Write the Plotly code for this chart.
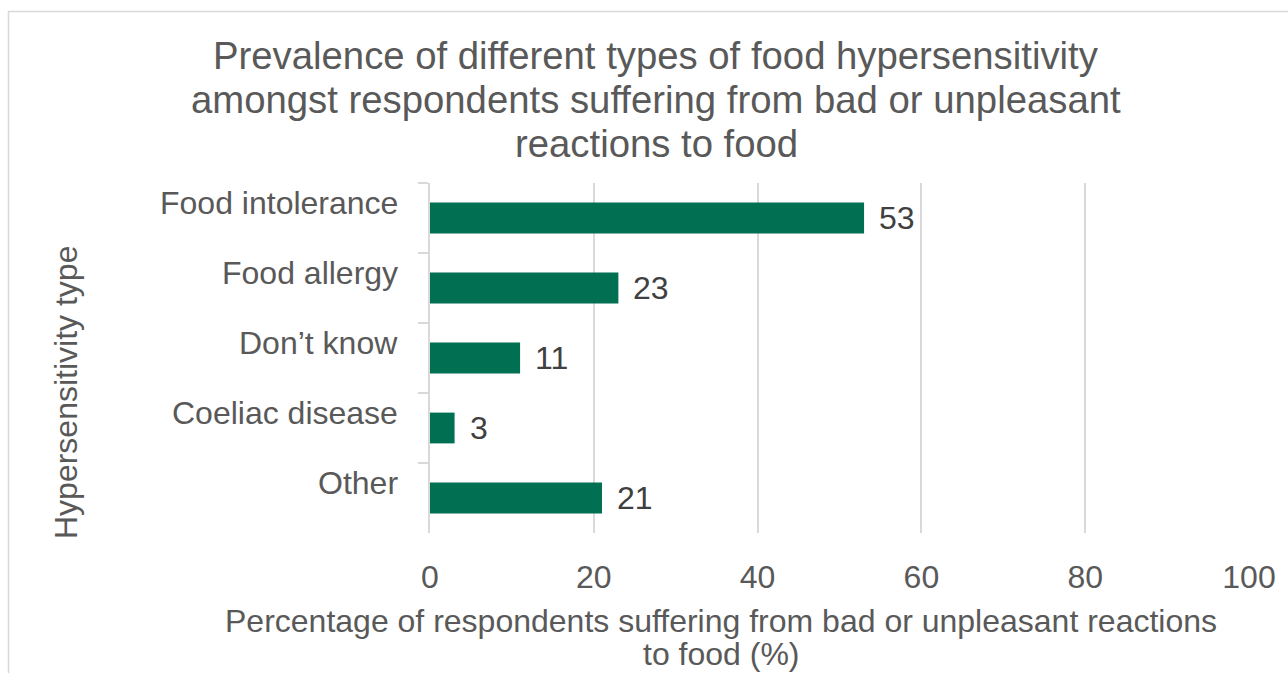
import plotly.graph_objects as go

# Hypersensitivity types, listed top to bottom
categories = ["Food intolerance", "Food allergy", "Don\u2019t know", "Coeliac disease", "Other"]
percentages = [53, 23, 11, 3, 21]
x_ticks = [0, 20, 40, 60, 80, 100]

title_lines = [
    "Prevalence of different types of food hypersensitivity",
    "amongst respondents suffering from bad or unpleasant",
    "reactions to food",
]
x_title_lines = [
    "Percentage of respondents suffering from bad or unpleasant reactions",
    "to food (%)",
]
y_title = "Hypersensitivity type"

FONT = "Liberation Sans, Arial, sans-serif"
TEXT_GREY = "#595959"
LABEL_GREY = "#404040"
LINE_GREY = "#d9d9d9"
BAR_GREEN = "#006F52"

W, H = 1288, 673
ML, MR, MT, MB = 430, 39, 183, 140
PW, PH = W - ML - MR, H - MT - MB


def px_to_paper_x(px):
    return (px - ML) / PW


def px_to_paper_y(py):
    return (H - MB - py) / PH


fig = go.Figure(
    go.Bar(
        x=percentages,
        y=categories,
        orientation="h",
        width=0.44,
        marker=dict(color=BAR_GREEN, line=dict(width=0)),
        hoverinfo="x+y",
    )
)

annotations = []

# category labels, sitting slightly above each bar
for cat in categories:
    annotations.append(dict(
        x=0, y=cat, xref="x", yref="y",
        text=cat, showarrow=False,
        xanchor="right", yanchor="middle",
        xshift=-30, yshift=15,
        font=dict(family=FONT, size=32, color=TEXT_GREY),
    ))

# value labels to the right of each bar
for cat, val in zip(categories, percentages):
    annotations.append(dict(
        x=val, y=cat, xref="x", yref="y",
        text=str(val), showarrow=False,
        xanchor="left", yanchor="middle",
        xshift=13, yshift=0,
        font=dict(family=FONT, size=32, color=LABEL_GREY),
    ))

# chart title, one line per annotation for tight line spacing
for line, cy in zip(title_lines, [55, 99, 143]):
    annotations.append(dict(
        x=px_to_paper_x(656), y=px_to_paper_y(cy), xref="paper", yref="paper",
        text=line, showarrow=False, xanchor="center", yanchor="middle",
        font=dict(family=FONT, size=38.3, color=TEXT_GREY),
    ))

# x-axis title
for line, cy in zip(x_title_lines, [621, 654]):
    annotations.append(dict(
        x=px_to_paper_x(721), y=px_to_paper_y(cy), xref="paper", yref="paper",
        text=line, showarrow=False, xanchor="center", yanchor="middle",
        font=dict(family=FONT, size=32, color=TEXT_GREY),
    ))

# y-axis title
annotations.append(dict(
    x=px_to_paper_x(66), y=px_to_paper_y(393), xref="paper", yref="paper",
    text=y_title, textangle=-90,
    showarrow=False, xanchor="center", yanchor="middle",
    font=dict(family=FONT, size=32, color=TEXT_GREY),
))

# chart border
shapes = [dict(
    type="rect", xref="paper", yref="paper",
    x0=px_to_paper_x(8.5), x1=px_to_paper_x(1300),
    y0=px_to_paper_y(690), y1=px_to_paper_y(11.5),
    line=dict(color=LINE_GREY, width=1.5), fillcolor="rgba(0,0,0,0)",
    layer="below",
)]

fig.update_layout(
    width=W, height=H,
    margin=dict(l=ML, r=MR, t=MT, b=MB),
    paper_bgcolor="white",
    plot_bgcolor="white",
    showlegend=False,
    xaxis=dict(
        range=[0, 100],
        tickvals=x_ticks,
        ticktext=[str(t) for t in x_ticks],
        showgrid=True, gridcolor=LINE_GREY, gridwidth=1.5,
        zeroline=False, showline=False,
        ticks="",
        ticklabelstandoff=22,
        tickfont=dict(family=FONT, size=32, color=TEXT_GREY),
        fixedrange=True,
    ),
    yaxis=dict(
        type="category",
        categoryorder="array", categoryarray=categories,
        autorange="reversed",
        showgrid=False, zeroline=False,
        showline=True, linecolor=LINE_GREY, linewidth=1.5,
        ticks="outside", tickson="boundaries", ticklen=10,
        tickcolor=LINE_GREY, tickwidth=1.5,
        showticklabels=False,
        fixedrange=True,
    ),
    annotations=annotations,
    shapes=shapes,
)

fig.write_html("out.html")
